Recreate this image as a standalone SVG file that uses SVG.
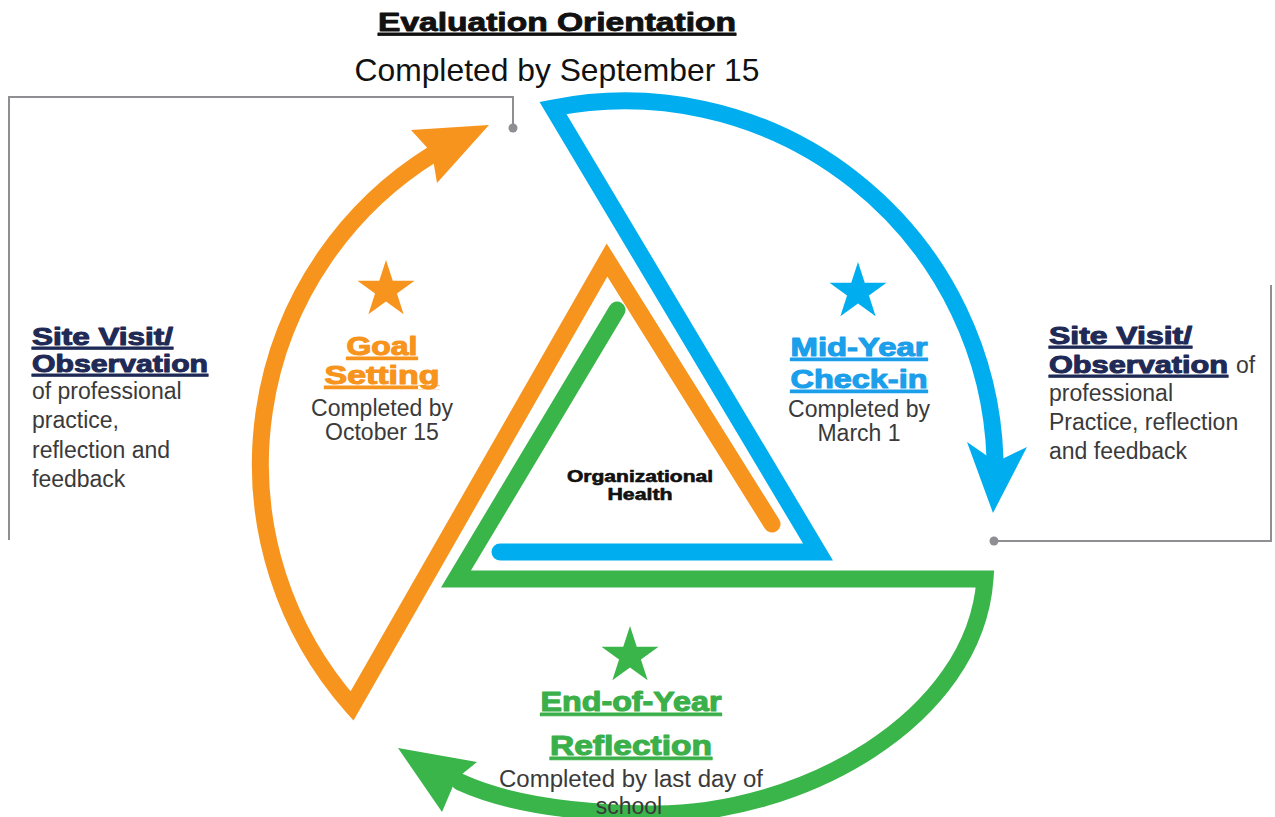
<svg xmlns="http://www.w3.org/2000/svg" xmlns:xlink="http://www.w3.org/1999/xlink" width="1275" height="817" viewBox="0 0 1275 817">
<style>
.hv{font-family:"Liberation Sans",Arial,sans-serif;font-weight:bold;stroke-linejoin:round}
.bd{font-family:"Liberation Sans",Arial,sans-serif;font-size:23px;fill:#3a3a3a}
.ul{text-decoration:underline}
.org{fill:#F7941D;stroke:#F7941D;stroke-width:1.1px}
.blu{fill:#1C9FEA;stroke:#1C9FEA;stroke-width:1.1px}
.grn{fill:#3BB04A;stroke:#3BB04A;stroke-width:1.1px}
.nav{fill:#1F2A56;stroke:#1F2A56;stroke-width:1px}
.blk{fill:#111;stroke:#111}
.arc{fill:none;stroke-width:17;stroke-linejoin:miter;stroke-miterlimit:10;stroke-linecap:round}
.brk{fill:none;stroke:#8E8E93;stroke-width:2}
</style>
<defs>
<polygon id="star" points="0,-30 6.76,-9.3 28.53,-9.27 10.94,3.55 17.63,24.27 0,11.5 -17.63,24.27 -10.94,3.55 -28.53,-9.27 -6.76,-9.3"/>
</defs>
<rect width="1275" height="817" fill="#fff"/>

<g id="connectors">
<path class="brk" d="M513 127 V97 H9 V540"/>
<circle cx="513" cy="128" r="4.5" fill="#8E8E93"/>
<path class="brk" d="M994 541 H1271 V285"/>
<circle cx="994" cy="541" r="4.5" fill="#8E8E93"/>
</g>

<g id="cycle">
<g id="orange-arrow">
<path class="arc" stroke="#F7941D" d="M772 524 L607 260 L352 706 A365 365 0 0 1 433 154"/>
<polygon fill="#F7941D" points="489,125 411,130 432,153 437,183"/>
</g>
<g id="blue-arrow">
<path class="arc" stroke="#00AEEF" d="M500 552 L818 552 L553 108 A370 370 0 0 1 995 458"/>
<polygon fill="#00AEEF" points="993,513 967,442 996,462 1027,447"/>
</g>
<g id="green-arrow">
<path class="arc" stroke="#39B54A" d="M617 310 L456 579 L985 579 C975 720 800 816 650 814 C580 813 510 805 460 782"/>
<polygon fill="#39B54A" points="398,748 477,762 456,779 442,812"/>
</g>
</g>

<g id="title">
<text class="hv blk ul" x="557" y="31" font-size="26" stroke-width="0.9" text-anchor="middle" textLength="358" lengthAdjust="spacingAndGlyphs">Evaluation Orientation</text>
<text x="557" y="81" font-family="Liberation Sans, Arial, sans-serif" font-size="32" fill="#111" text-anchor="middle" textLength="405" lengthAdjust="spacingAndGlyphs">Completed by September 15</text>
</g>

<g id="goal-setting">
<use href="#star" x="386" y="290" fill="#F7941D"/>
<text class="hv org ul" x="382" y="355" font-size="26" text-anchor="middle" textLength="71" lengthAdjust="spacingAndGlyphs">Goal</text>
<text class="hv org ul" x="382" y="384" font-size="26" text-anchor="middle" textLength="115" lengthAdjust="spacingAndGlyphs">Setting</text>
<text class="bd" x="382" y="416" text-anchor="middle">Completed by</text>
<text class="bd" x="382" y="440" text-anchor="middle">October 15</text>
</g>

<g id="mid-year">
<use href="#star" x="858" y="292" fill="#00AEEF"/>
<text class="hv blu ul" x="859" y="356" font-size="26" text-anchor="middle" textLength="137" lengthAdjust="spacingAndGlyphs">Mid-Year</text>
<text class="hv blu ul" x="859" y="388" font-size="26" text-anchor="middle" textLength="137" lengthAdjust="spacingAndGlyphs">Check-in</text>
<text class="bd" x="859" y="417" text-anchor="middle">Completed by</text>
<text class="bd" x="859" y="441" text-anchor="middle">March 1</text>
</g>

<g id="end-of-year">
<use href="#star" x="630" y="656" fill="#39B54A"/>
<text class="hv grn ul" x="631" y="711" font-size="27" text-anchor="middle" textLength="181" lengthAdjust="spacingAndGlyphs">End-of-Year</text>
<text class="hv grn ul" x="631" y="755" font-size="27" text-anchor="middle" textLength="162" lengthAdjust="spacingAndGlyphs">Reflection</text>
<text class="bd" x="631" y="787" text-anchor="middle" textLength="264" lengthAdjust="spacingAndGlyphs">Completed by last day of</text>
<text class="bd" x="629" y="814" text-anchor="middle">school</text>
</g>

<g id="org-health">
<text class="hv blk" x="640" y="482" font-size="16" stroke-width="0.6" text-anchor="middle" textLength="146" lengthAdjust="spacingAndGlyphs">Organizational</text>
<text class="hv blk" x="640" y="500" font-size="16" stroke-width="0.6" text-anchor="middle" textLength="65" lengthAdjust="spacingAndGlyphs">Health</text>
</g>

<g id="site-visit-left">
<text class="hv nav ul" x="32" y="345" font-size="23" textLength="141" lengthAdjust="spacingAndGlyphs">Site Visit/</text>
<text class="hv nav ul" x="32" y="372" font-size="23" textLength="176" lengthAdjust="spacingAndGlyphs">Observation</text>
<text class="bd" x="32" y="399">of professional</text>
<text class="bd" x="32" y="428">practice,</text>
<text class="bd" x="32" y="458">reflection and</text>
<text class="bd" x="32" y="487">feedback</text>
</g>

<g id="site-visit-right">
<text class="hv nav ul" x="1049" y="344" font-size="23" textLength="143" lengthAdjust="spacingAndGlyphs">Site Visit/</text>
<text class="hv nav ul" x="1049" y="373" font-size="23" textLength="179" lengthAdjust="spacingAndGlyphs">Observation</text>
<text class="bd" x="1236" y="373">of</text>
<text class="bd" x="1049" y="401">professional</text>
<text class="bd" x="1049" y="430">Practice, reflection</text>
<text class="bd" x="1049" y="459">and feedback</text>
</g>
</svg>
